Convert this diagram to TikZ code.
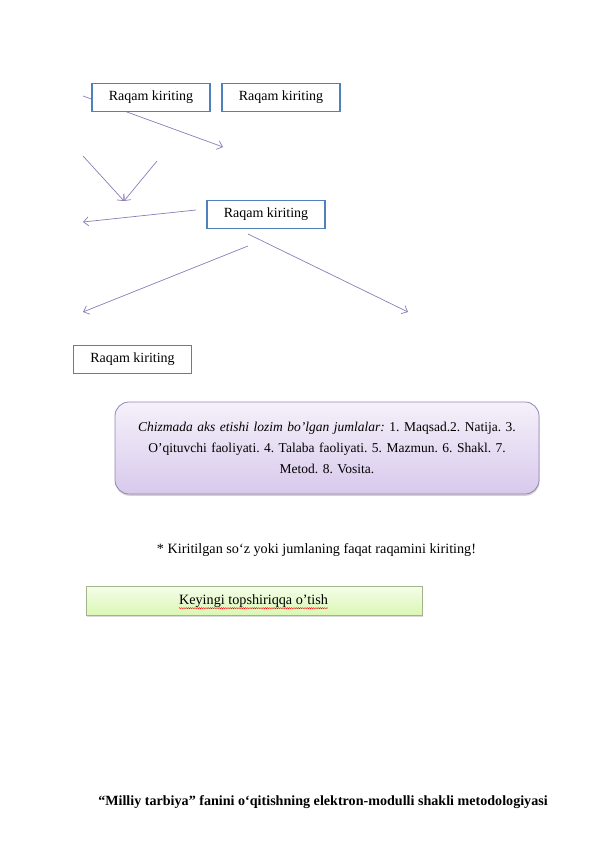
\documentclass[tikz,border=0pt]{standalone}
\usepackage{fontspec}
\setmainfont{Liberation Serif}
\frenchspacing
\usetikzlibrary{arrows.meta,shadows,decorations.pathmorphing}
\definecolor{boxblue}{HTML}{4F81BD}
\definecolor{linkviolet}{HTML}{8C7DB8}
\definecolor{hintedge}{HTML}{9484B8}
\definecolor{hinttop}{HTML}{F5F1FA}
\definecolor{hintbot}{HTML}{D8C9EC}
\definecolor{nextedge}{HTML}{A3B38C}
\definecolor{nexttop}{HTML}{F5FDEA}
\definecolor{nextbot}{HTML}{DAF7B4}
\tikzset{
  numbox/.style={draw=boxblue, line width=1.5pt, fill=white, minimum width=118pt, minimum height=28pt, inner sep=0pt, font=\fontsize{14}{16}\selectfont},
  linkarrow/.style={-{Straight Barb[length=5pt,width=9pt]}, draw=linkviolet, line width=0.7pt},
  hintbox/.style={draw=hintedge, line width=0.8pt, rounded corners=14pt, top color=hinttop, bottom color=hintbot, minimum width=424pt, minimum height=92pt, text width=418pt, align=center, inner sep=0pt, font=\fontsize{13.5}{21}\selectfont, drop shadow={opacity=0.35, shadow xshift=0.5pt, shadow yshift=-1.8pt}},
  nextbox/.style={draw=nextedge, line width=1pt, top color=nexttop, bottom color=nextbot, minimum width=336pt, minimum height=29pt, inner sep=0pt, drop shadow={opacity=0.3, shadow xshift=1.2pt, shadow yshift=-1.5pt}},
  plaintext/.style={inner sep=0pt, font=\fontsize{14.2}{16}\selectfont},
  spellmark/.style={draw=red, line width=0.4pt, decorate, decoration={snake, amplitude=0.6pt, segment length=2.2pt}}
}
\begin{document}
\begin{tikzpicture}[x=1pt,y=-1pt]
\useasboundingbox (0,0) rectangle (596,842);
\coordinate (s1) at (83,96);
\coordinate (e1) at (223,147);
\coordinate (s2) at (83,156);
\coordinate (s3) at (157,161);
\coordinate (e2) at (124,201);
\coordinate (s4) at (196,210);
\coordinate (e4) at (83,222);
\coordinate (s5) at (248,246);
\coordinate (e5) at (83,312);
\coordinate (s6) at (248,234);
\coordinate (e6) at (408,312);
\draw[linkarrow] (s1) -- (e1);
\draw[linkarrow] (s2) -- (e2);
\draw[linkarrow] (s3) -- (e2);
\draw[linkarrow] (s4) -- (e4);
\draw[linkarrow] (s5) -- (e5);
\draw[linkarrow] (s6) -- (e6);
\node[numbox] (numa) at (151,97.5) {Raqam kiriting};
\node[numbox] (numb) at (281,97.5) {Raqam kiriting};
\node[numbox] (numc) at (266,214.5) {Raqam kiriting};
\node[numbox] (numd) at (132.5,359.5) {Raqam kiriting};
\node[hintbox] (hint) at (327,448) {\textit{Chizmada aks etishi lozim bo’lgan jumlalar:} 1. Maqsad.2. Natija. 3.\\ O’qituvchi faoliyati. 4. Talaba faoliyati. 5. Mazmun. 6. Shakl. 7.\\ Metod. 8. Vosita.};
\node[plaintext] (note) at (316.5,550) {* Kiritilgan so‘z yoki jumlaning faqat raqamini kiriting!};
\node[nextbox] (next) at (254,600.5) {};
\node[plaintext] (nexttxt) at (253.5,601) {Keyingi topshiriqqa o’tish};
\draw[spellmark] ([yshift=-0.5pt]nexttxt.south west) -- ([yshift=-0.5pt]nexttxt.south east);
\node[plaintext, font=\fontsize{14.1}{16}\selectfont\bfseries] (footer) at (323,802) {“Milliy tarbiya” fanini o‘qitishning elektron-modulli shakli metodologiyasi};
\end{tikzpicture}
\end{document}
